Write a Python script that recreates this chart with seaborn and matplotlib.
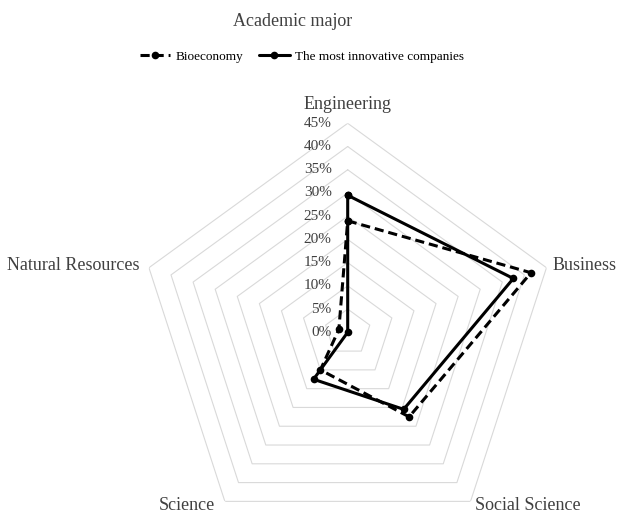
"""Radar chart: academic major of bioeconomy vs most innovative companies."""

import numpy as np
import pandas as pd
import matplotlib
matplotlib.use("Agg")
import matplotlib.pyplot as plt
import seaborn as sns

# --- data ---------------------------------------------------------------
categories = ["Engineering", "Business", "Social Science", "Science",
              "Natural Resources"]
bioeconomy = [24, 41.5, 22.5, 10, 2]
innovative = [29.5, 37.5, 20.5, 12.5, 0]
ring_ticks = [0, 5, 10, 15, 20, 25, 30, 35, 40, 45]
tick_labels = [f"{t}%" for t in ring_ticks]

series_names = ["Bioeconomy", "The most innovative companies"]

sns.set_theme(style="white")
plt.rcParams["font.family"] = ["Liberation Serif", "DejaVu Serif"]

TEXT = "#404040"
GRID = "#d9d9d9"

n = len(categories)
theta = np.linspace(0, 2 * np.pi, n, endpoint=False)
theta_closed = np.append(theta, theta[0])

rows = []
for name, vals in zip(series_names, [bioeconomy, innovative]):
    closed = list(vals) + [vals[0]]
    for order, (t, v) in enumerate(zip(theta_closed, closed)):
        rows.append({"series": name, "theta": t, "value": v, "order": order})
df = pd.DataFrame(rows)

fig = plt.figure(figsize=(6.17, 5.14), dpi=100)
cx, cy, R = 347.7, 332.3, 209.0
W, H = 617.0, 514.0
ax = fig.add_axes([(cx - R) / W, (H - cy - R) / H, 2 * R / W, 2 * R / H],
                  projection="polar")
ax.set_theta_offset(np.pi / 2)
ax.set_theta_direction(-1)

# polygon grid rings
for r in ring_ticks[1:]:
    ax.plot(theta_closed, [r] * (n + 1), color=GRID, lw=0.8, zorder=1)

styles = {
    "Bioeconomy": (0, (3, 1.6)),
    "The most innovative companies": "-",
}
for name in series_names:
    sub = df[df["series"] == name]
    sns.lineplot(data=sub, x="theta", y="value", sort=False, estimator=None,
                 ax=ax, color="black", linewidth=2.2, linestyle=styles[name],
                 marker="o", markersize=5.5, markeredgewidth=0,
                 label=name, zorder=3)

ax.set_ylim(0, 45)
ax.set_xticks([])
ax.set_yticks([])
ax.grid(False)
ax.spines["polar"].set_visible(False)
ax.set_xlabel("")
ax.set_ylabel("")
ax.patch.set_alpha(0)

# ring labels along the Engineering axis
for r, lab in zip(ring_ticks, tick_labels):
    ax.annotate(lab, xy=(0, r), xytext=(-11.5, 0), textcoords="offset points",
                ha="right", va="center", fontsize=11, color=TEXT)

# category labels
label_pos = {
    "Engineering": ((0, 13.7), "center", "center"),
    "Business": ((4.3, 1.4), "left", "center"),
    "Social Science": ((3, -3.3), "left", "center"),
    "Science": ((-7, -3.3), "right", "center"),
    "Natural Resources": ((-6.5, 1.9), "right", "center"),
}
for t, cat in zip(theta, categories):
    off, ha, va = label_pos[cat]
    ax.annotate(cat, xy=(t, 45), xytext=off, textcoords="offset points",
                ha=ha, va=va, fontsize=13, color=TEXT, annotation_clip=False)

handles, labels = ax.get_legend_handles_labels()
if ax.legend_ is not None:
    ax.legend_.remove()
fig.legend(handles, labels, loc="center", bbox_to_anchor=(302 / W, 1 - 57 / H),
           ncol=2, frameon=False, fontsize=9.5, handlelength=2.3,
           handletextpad=0.4, columnspacing=1.2, labelcolor="black")

fig.text(293 / W, 1 - 22 / H, "Academic major", ha="center", va="center",
         fontsize=13, color=TEXT)

fig.savefig("out.png", dpi=100)
plt.close(fig)
